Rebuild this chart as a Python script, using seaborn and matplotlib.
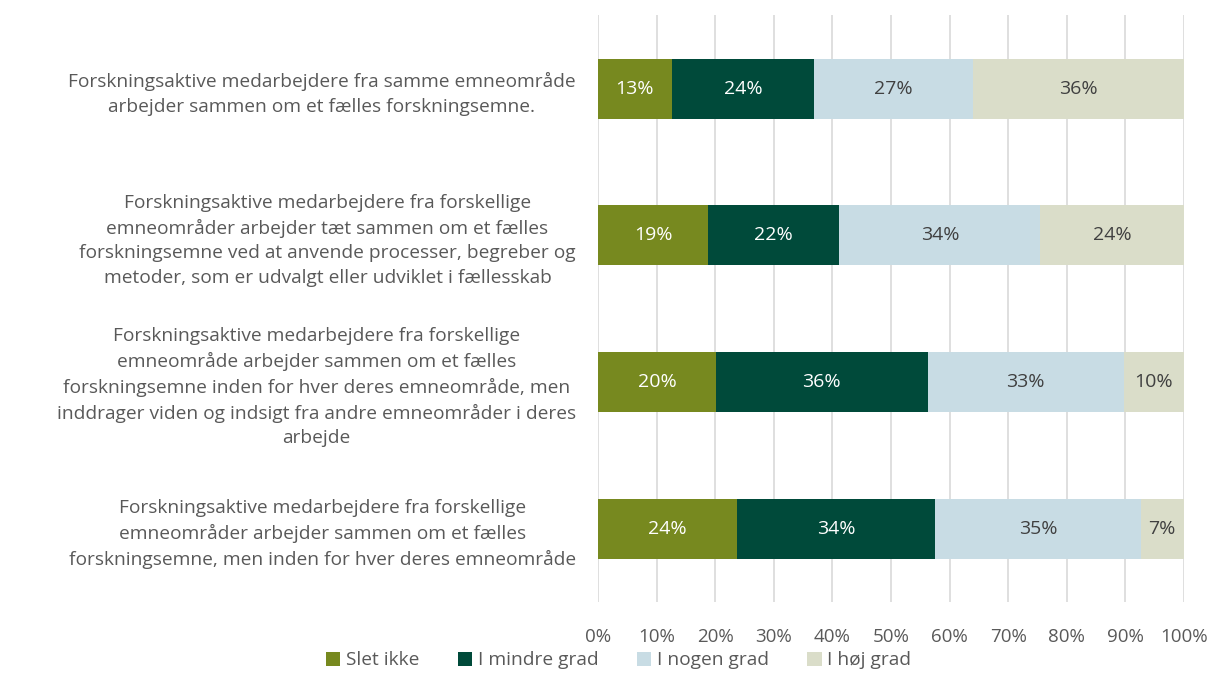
import pandas as pd
import seaborn as sns
import matplotlib.pyplot as plt
import numpy as np
from matplotlib.patches import Patch

# Spørgsmål (kategorier) og svarfordeling i procent
kategorier = [
    "Forskningsaktive medarbejdere fra samme emneområde\narbejder sammen om et fælles forskningsemne.",
    "Forskningsaktive medarbejdere fra forskellige\nemneområder arbejder tæt sammen om et fælles\nforskningsemne ved at anvende processer, begreber og\nmetoder, som er udvalgt eller udviklet i fællesskab",
    "Forskningsaktive medarbejdere fra forskellige\nemneområde arbejder sammen om et fælles\nforskningsemne inden for hver deres emneområde, men\ninddrager viden og indsigt fra andre emneområder i deres\narbejde",
    "Forskningsaktive medarbejdere fra forskellige\nemneområder arbejder sammen om et fælles\nforskningsemne, men inden for hver deres emneområde",
]
serier = ["Slet ikke", "I mindre grad", "I nogen grad", "I høj grad"]
slet_ikke = [12.6, 18.8, 20.1, 23.7]
mindre_grad = [24.3, 22.4, 36.2, 33.9]
nogen_grad = [27.1, 34.3, 33.4, 35.0]
hoej_grad = [36.0, 24.5, 10.3, 7.4]
etiketter = [
    ["13%", "24%", "27%", "36%"],
    ["19%", "22%", "34%", "24%"],
    ["20%", "36%", "33%", "10%"],
    ["24%", "34%", "35%", "7%"],
]

farver = ["#77891F", "#004A3A", "#C8DCE4", "#DADDC9"]
tekstfarver = ["white", "white", "#404040", "#404040"]

plt.rcParams['font.family'] = ['Open Sans', 'DejaVu Sans']

df = pd.DataFrame({"kategori": kategorier, serier[0]: slet_ikke, serier[1]: mindre_grad,
                   serier[2]: nogen_grad, serier[3]: hoej_grad})
kum = df[serier].cumsum(axis=1)

fig = plt.figure(figsize=(12.13, 6.98), dpi=100)
ax = fig.add_axes([0.493, 0.1375, 0.483, 0.8405])

# Stablede bjælker: tegn kumulative summer fra største til mindste
for i in range(len(serier) - 1, -1, -1):
    sns.barplot(x=kum[serier[i]], y=df["kategori"], color=farver[i], orient="h",
                width=0.41, ax=ax, saturation=1, edgecolor="none", zorder=2)

# Værdietiketter
for r in range(len(kategorier)):
    start = 0
    for i, s in enumerate(serier):
        v = df.loc[r, s]
        ax.text(start + v / 2, r, etiketter[r][i], ha="center", va="center",
                color=tekstfarver[i], fontsize=14)
        start += v

ax.set_xlim(0, 100)
ax.set_ylim(3.5, -0.5)
ax.set_xticks(np.arange(0, 101, 10))
ax.set_xticklabels([f"{t}%" for t in range(0, 101, 10)], color="#595959", fontsize=13.5)
ax.tick_params(axis="x", length=0, pad=19)
ax.tick_params(axis="y", length=0, pad=16)
for lbl in ax.get_yticklabels():
    lbl.set_multialignment("center")
    lbl.set_color("#595959")
    lbl.set_fontsize(13.8)
    lbl.set_linespacing(1.45)
ax.set_xlabel("")
ax.set_ylabel("")
ax.grid(axis="x", color="#D9D9D9", linewidth=1.2, zorder=0)
ax.set_axisbelow(True)
for sp in ax.spines.values():
    sp.set_visible(False)

handles = [Patch(facecolor=farver[i], label=serier[i]) for i in range(len(serier))]
fig.legend(handles=handles, loc="center", bbox_to_anchor=(0.51, 0.054), ncol=4, frameon=False,
           fontsize=13.8, labelcolor="#595959", handlelength=0.75, handleheight=0.75,
           handletextpad=0.3, columnspacing=2.0)

fig.savefig("out.png", dpi=100)
